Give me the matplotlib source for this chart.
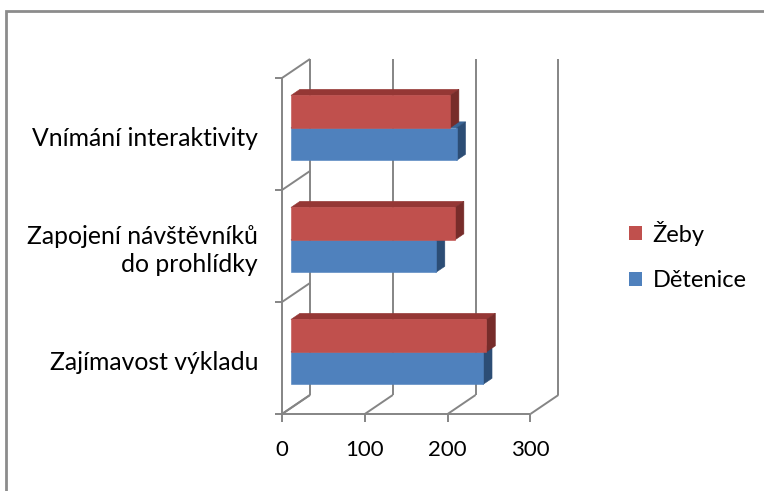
import matplotlib
matplotlib.use("Agg")
from matplotlib import pyplot as plt
from matplotlib.patches import Polygon, Rectangle, Patch

plt.rcParams['font.family'] = ['Lato', 'DejaVu Sans']

categories = ["Zajímavost výkladu", "Zapojení návštěvníků\ndo prohlídky", "Vnímání interaktivity"]
zeby = [236, 198, 192]
detenice = [232, 175, 200]
value_ticks = [0, 100, 200, 300]
series_names = ["Žeby", "Dětenice"]

W, H = 764, 491
# pseudo-3d depth shift of the back wall, in data units
DX = 28 / 0.828
DY = 19 / 112.0
Z_FRONT, Z_BACK = 0.32, 0.64
GRID = "#858585"

face = {"red": ("#C0504D", "#953735", "#772C2A"),
        "blue": ("#4F81BD", "#3A6596", "#2C4D75")}


def proj(v, c, z):
    return (v + z * DX, c + z * DY)


def box(ax, v, c0, c1, colors):
    front, top, side = colors
    z0, z1 = Z_FRONT, Z_BACK
    top_poly = [proj(0, c1, z0), proj(v, c1, z0), proj(v, c1, z1), proj(0, c1, z1)]
    side_poly = [proj(v, c0, z0), proj(v, c0, z1), proj(v, c1, z1), proj(v, c1, z0)]
    front_poly = [proj(0, c0, z0), proj(v, c0, z0), proj(v, c1, z0), proj(0, c1, z0)]
    for pts, col in ((top_poly, top), (side_poly, side), (front_poly, front)):
        ax.add_patch(Polygon(pts, closed=True, facecolor=col, edgecolor=col,
                             linewidth=0.4, zorder=3))


fig = plt.figure(figsize=(W / 100, H / 100), dpi=100)
ax = fig.add_axes([282 / W, (H - 414) / H, (560 - 282) / W, (414 - 60) / H])
ax.set_xlim(0, 278 / 0.828)
ax.set_ylim(0, 354 / 112.0)
ax.axis("off")

ncat = len(categories)
kw = dict(color=GRID, linewidth=1.4, solid_capstyle="butt", clip_on=False, zorder=1)

# back wall and floor
for v in value_ticks:
    (x0, y0), (x1, y1) = proj(v, 0, 1), proj(v, ncat, 1)
    ax.plot([x0, x1], [y0, y1], **kw)
    (x0, y0), (x1, y1) = proj(v, 0, 0), proj(v, 0, 1)
    ax.plot([x0, x1], [y0, y1], **kw)
# left wall
for c in range(ncat + 1):
    (x0, y0), (x1, y1) = proj(0, c, 0), proj(0, c, 1)
    ax.plot([x0, x1], [y0, y1], **kw)
ax.plot([0, 0], [0, ncat], **kw)
ax.plot([0, value_ticks[-1]], [0, 0], **kw)

# tick marks
px = 1 / 0.828
for c in range(ncat + 1):
    ax.plot([-7 * px, 0], [c, c], **kw)
for v in value_ticks:
    ax.plot([v, v], [0, -8 / 112.0], **kw)
    ax.text(v, -36 / 112.0, str(v), ha="center", va="center", fontsize=16,
            color="#000000")

for i, name in enumerate(categories):
    ax.text(-24 * px, i + 0.46, name, ha="right", va="center", fontsize=17.8,
            linespacing=1.3, color="#000000")

# bars: blue (lower) first, then red on top of it
for i in range(ncat):
    box(ax, detenice[i], i + 0.21, i + 0.5, face["blue"])
    box(ax, zeby[i], i + 0.5, i + 0.79, face["red"])

handles = [Patch(facecolor=face["red"][0], edgecolor="none"),
           Patch(facecolor=face["blue"][0], edgecolor="none")]
fig.legend(handles, series_names, loc="center left",
           bbox_to_anchor=(622 / W, 1 - 256 / H), frameon=False, fontsize=17,
           handlelength=0.55, handleheight=0.55, handletextpad=0.45,
           labelspacing=1.05, borderaxespad=0, borderpad=0.3)

# outer frame of the chart area
fig.add_artist(Rectangle((6 / W, -0.1), 1.2, 1 - 11 / H + 0.1,
                         transform=fig.transFigure, fill=False,
                         edgecolor="#8C8C8C", linewidth=2))

fig.savefig("out.png", dpi=100)
